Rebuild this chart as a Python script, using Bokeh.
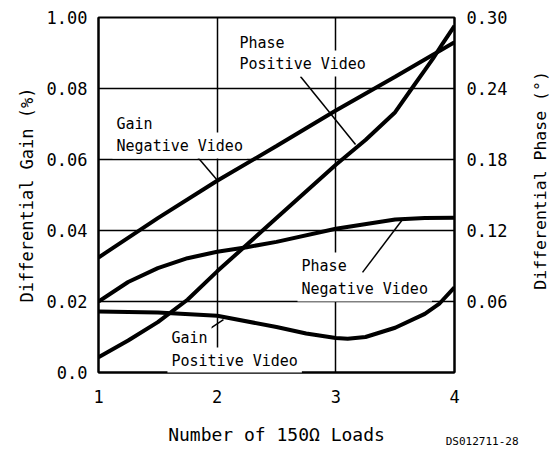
import math
from bokeh.plotting import figure
from bokeh.layouts import row
from bokeh.models import Range1d, LinearAxis, FixedTicker, Label, Title
from bokeh.embed import file_html
from bokeh.resources import INLINE

# ---- data ----
loads_gain_neg = [1.0, 1.5, 2.0, 2.5, 3.0, 3.5, 4.0]
gain_neg = [0.0324, 0.0435, 0.0540, 0.0638, 0.0738, 0.0833, 0.0930]  # %

loads_gain_pos = [1.0, 1.5, 2.0, 2.5, 2.75, 3.0, 3.1, 3.25, 3.5, 3.75, 3.87, 4.0]
gain_pos = [0.0172, 0.0169, 0.0160, 0.0128, 0.0110, 0.0097, 0.0095, 0.0100, 0.0126, 0.0165, 0.0193, 0.0240]  # %

loads_phase_pos = [1.0, 1.25, 1.5, 1.75, 2.0, 2.5, 3.0, 3.25, 3.5, 3.64, 3.75, 3.82, 3.9, 4.0]
phase_pos = [0.0129, 0.0270, 0.0426, 0.0615, 0.0855, 0.1305, 0.1755, 0.1965, 0.2200, 0.2400, 0.2555, 0.2655, 0.2780, 0.2930]  # deg

loads_phase_neg = [1.0, 1.25, 1.5, 1.75, 2.0, 2.25, 2.5, 3.0, 3.5, 3.75, 4.0]
phase_neg = [0.0600, 0.0765, 0.0882, 0.0966, 0.1020, 0.1059, 0.1104, 0.1215, 0.1293, 0.1305, 0.1308]  # deg

x_ticks = [1, 2, 3, 4]
gain_ticks = [0.0, 0.02, 0.04, 0.06, 0.08, 0.10]
gain_tick_labels = ["0.0", "0.02", "0.04", "0.06", "0.08", "1.00"]
phase_ticks = [0.06, 0.12, 0.18, 0.24, 0.30]
phase_tick_labels = ["0.06", "0.12", "0.18", "0.24", "0.30"]

# annotation leader lines (x in loads, y in gain units)
leader_x0 = [1.809, 2.702, 3.225, 1.927]
leader_y0 = [0.0617, 0.0834, 0.0282, 0.0121]
leader_x1 = [2.003, 3.166, 3.562, 2.053]
leader_y1 = [0.0541, 0.0642, 0.0431, 0.0149]

# annotation texts: (text, x, y_top)
notes = [
    ("Gain", 1.118, 0.0738),
    ("Negative Video", 1.118, 0.0676),
    ("Phase", 2.154, 0.0966),
    ("Positive Video", 2.154, 0.0907),
    ("Phase", 2.677, 0.0338),
    ("Negative Video", 2.677, 0.0273),
    ("Gain", 1.581, 0.01324),
    ("Positive Video", 1.581, 0.00704),
]

FONT = "DejaVu Sans Mono"

p = figure(width=520, height=449, x_range=Range1d(1, 4), y_range=Range1d(0, 0.1),
           output_backend="svg", toolbar_location=None,
           min_border_left=98, min_border_right=66, min_border_top=17, min_border_bottom=77,
           background_fill_color="white", border_fill_color="white")
p.extra_y_ranges = {"phase": Range1d(0, 0.30)}

p.outline_line_color = "black"
p.outline_line_width = 2
p.outline_line_alpha = 1

# axes
xa = p.xaxis[0]
xa.ticker = FixedTicker(ticks=x_ticks)
xa.axis_label = "Number of 150Ω Loads"
ya = p.yaxis[0]
ya.ticker = FixedTicker(ticks=gain_ticks)
ya.major_label_overrides = {t: l for t, l in zip(gain_ticks, gain_tick_labels)}
ya.axis_label = "Differential Gain (%)"

ra = LinearAxis(y_range_name="phase", ticker=FixedTicker(ticks=phase_ticks))
ra.major_label_overrides = {t: l for t, l in zip(phase_ticks, phase_tick_labels)}
p.add_layout(ra, "right")

for ax in (xa, ya, ra):
    ax.major_tick_in = 0
    ax.major_tick_out = 0
    ax.minor_tick_in = 0
    ax.minor_tick_out = 0
    ax.axis_line_color = "black"
    ax.axis_line_width = 2
    ax.major_label_text_font = FONT
    ax.major_label_text_font_size = "17px"
    ax.major_label_text_color = "black"
    ax.axis_label_text_font = FONT
    ax.axis_label_text_font_size = "17px"
    ax.axis_label_text_font_style = "normal"
    ax.axis_label_text_color = "black"

xa.major_label_standoff = 17
xa.axis_label_standoff = 18
xa.axis_label_text_font_size = "18px"
ya.major_label_standoff = 11
ya.axis_label_standoff = 7
ra.major_label_standoff = 12

# drawing code at the bottom right corner
p.add_layout(Title(text="DS012711-28", align="right", vertical_align="top",
                   text_font=FONT, text_font_size="11px", text_font_style="normal",
                   text_color="black", standoff=-26, offset=-64), "below")

# grid
p.xgrid.ticker = FixedTicker(ticks=x_ticks)
p.ygrid.ticker = FixedTicker(ticks=gain_ticks)
for g in (p.xgrid[0], p.ygrid[0]):
    g.grid_line_color = "black"
    g.grid_line_width = 1.5
    g.grid_line_alpha = 1

# curves
LW = 4
p.line(loads_gain_neg, gain_neg, line_color="black", line_width=LW)
p.line(loads_gain_pos, gain_pos, line_color="black", line_width=LW)
p.line(loads_phase_pos, phase_pos, line_color="black", line_width=LW, y_range_name="phase")
p.line(loads_phase_neg, phase_neg, line_color="black", line_width=LW, y_range_name="phase")

# leader lines
p.segment(x0=leader_x0, y0=leader_y0, x1=leader_x1, y1=leader_y1,
          line_color="black", line_width=1.5)

# annotation texts (white box hides grid lines as in the reference)
for txt, x, y in notes:
    p.add_layout(Label(x=x, y=y, text=txt, text_align="left", text_baseline="top",
                       text_font=FONT, text_font_size="15px", text_color="black",
                       background_fill_color="white", padding=4))

# narrow strip carrying the right-hand axis title (reads bottom-to-top)
strip = figure(width=31, height=449, x_range=Range1d(0, 31), y_range=Range1d(0, 449),
               output_backend="svg", toolbar_location=None, min_border=0,
               x_axis_type=None, y_axis_type=None,
               background_fill_color="white", border_fill_color="white")
strip.outline_line_color = None
strip.grid.visible = False
strip.add_layout(Label(x=20, y=243, text="Differential Phase (°)", angle=math.pi / 2,
                       text_align="center", text_baseline="middle",
                       text_font=FONT, text_font_size="16.5px", text_color="black"))

layout = row(p, strip, spacing=0)
open("out.html", "w").write(file_html(layout, INLINE))
